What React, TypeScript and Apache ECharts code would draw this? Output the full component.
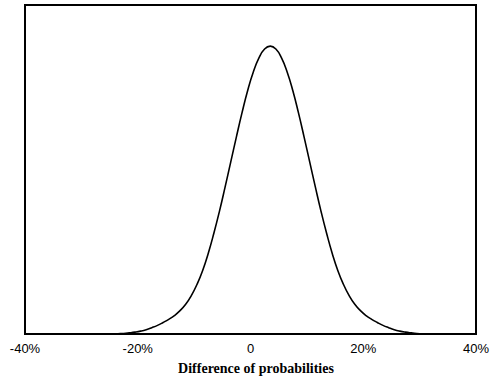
import React, { useEffect, useRef } from "react";
import * as echarts from "echarts";

// Difference of probabilities (%) and relative density
const xValues: number[] = [
  -24.5, -23.5, -22.5, -21.5, -20.5, -19.5, -18.5, -17.5, -16.5, -15.5,
  -14.5, -13.5, -12.5, -11.5, -10.5, -9.5, -8.5, -7.5, -6.5, -5.5,
  -4.5, -3.5, -2.5, -1.5, -0.5, 0.5, 1.5, 2.5, 3.5, 4.5,
  5.5, 6.5, 7.5, 8.5, 9.5, 10.5, 11.5, 12.5, 13.5, 14.5,
  15.5, 16.5, 17.5, 18.5, 19.5, 20.5, 21.5, 22.5, 23.5, 24.5,
  25.5, 26.5, 27.5, 28.5, 29.5, 30.5,
];
const density: number[] = [
  0.0, 0.001, 0.002, 0.004, 0.0065, 0.01, 0.015, 0.022, 0.03, 0.04,
  0.051, 0.064, 0.081, 0.103, 0.133, 0.172, 0.22, 0.28, 0.35, 0.427,
  0.511, 0.598, 0.685, 0.769, 0.846, 0.91, 0.959, 0.99, 1.0, 0.99,
  0.959, 0.91, 0.846, 0.769, 0.685, 0.598, 0.511, 0.427, 0.35, 0.28,
  0.22, 0.172, 0.133, 0.103, 0.081, 0.064, 0.051, 0.04, 0.03, 0.022,
  0.015, 0.01, 0.0065, 0.004, 0.002, 0.0,
];
const xTicks: number[] = [-40, -20, 0, 20, 40];
const axisTitle = "Difference of probabilities";

export default function App() {
  const ref = useRef<HTMLDivElement>(null);
  useEffect(() => {
    if (!ref.current) return;
    const chart = echarts.init(ref.current, null, { renderer: "svg" });
    chart.setOption({
      animation: false,
      backgroundColor: "#fff",
      grid: {
        left: 25,
        right: 24,
        top: 5,
        bottom: 54,
        show: true,
        borderColor: "#000",
        borderWidth: 2,
        backgroundColor: "transparent",
      },
      xAxis: {
        type: "value",
        min: xTicks[0],
        max: xTicks[xTicks.length - 1],
        interval: 20,
        axisLine: { show: true, lineStyle: { color: "#000", width: 2 } },
        axisTick: { show: false },
        splitLine: { show: false },
        axisLabel: {
          color: "#000",
          fontFamily: "Liberation Sans, Arial, sans-serif",
          fontSize: 13,
          margin: 8,
          formatter: (v: number) => (v === 0 ? "0" : v + "%"),
        },
      },
      yAxis: {
        type: "value",
        min: 0,
        max: 1.143,
        show: false,
      },
      graphic: [
        {
          type: "text",
          x: 256,
          y: 368,
          style: {
            text: axisTitle,
            fill: "#000",
            font: "bold 14px 'Liberation Serif', 'Times New Roman', serif",
            textAlign: "center",
            textVerticalAlign: "middle",
          },
        },
      ],
      series: [
        {
          type: "line",
          data: xValues.map((x, i) => [x, density[i]]),
          smooth: true,
          symbol: "none",
          lineStyle: { color: "#000", width: 1.6 },
        },
      ],
    });
    return () => chart.dispose();
  }, []);
  return <div ref={ref} style={{ width: 500, height: 388, position: "absolute", left: 0, top: 0 }} />;
}
